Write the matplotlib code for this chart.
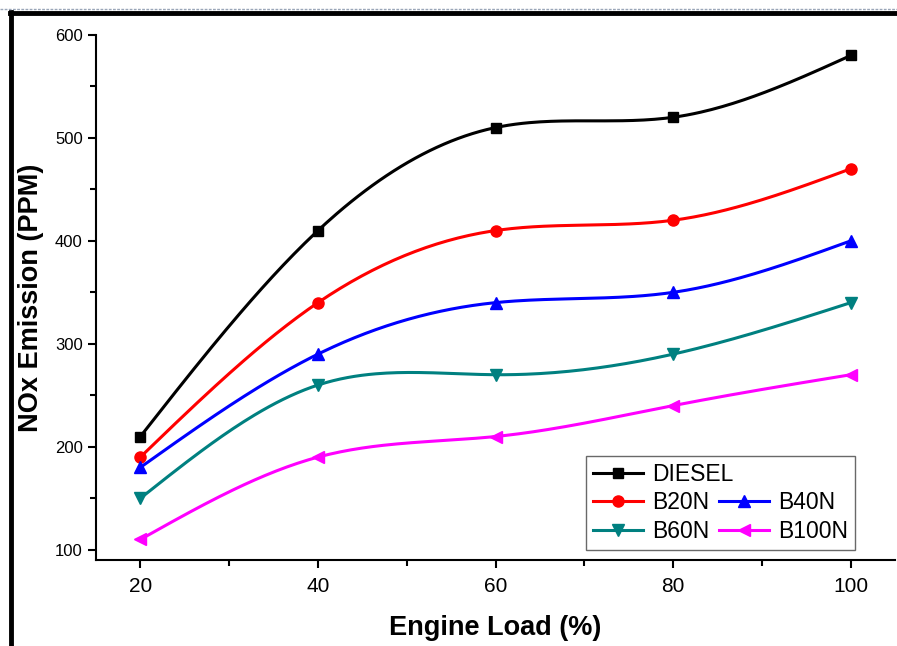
import numpy as np
import matplotlib
matplotlib.use("Agg")
import matplotlib.pyplot as plt
from matplotlib.lines import Line2D

plt.rcParams['font.family'] = ['Liberation Sans', 'DejaVu Sans']

loads = [20, 40, 60, 80, 100]
diesel = [210, 410, 510, 520, 580]
b20n = [190, 340, 410, 420, 470]
b40n = [180, 290, 340, 350, 400]
b60n = [150, 260, 270, 290, 340]
b100n = [110, 190, 210, 240, 270]
series_names = ["DIESEL", "B20N", "B40N", "B60N", "B100N"]
x_ticks = [20, 40, 60, 80, 100]
y_ticks = [100, 200, 300, 400, 500, 600]


def natural_spline(x, y, n=200):
    x = np.asarray(x, float)
    y = np.asarray(y, float)
    m = len(x)
    h = np.diff(x)
    A = np.zeros((m, m))
    b = np.zeros(m)
    A[0, 0] = 1
    A[-1, -1] = 1
    for i in range(1, m - 1):
        A[i, i - 1] = h[i - 1]
        A[i, i] = 2 * (h[i - 1] + h[i])
        A[i, i + 1] = h[i]
        b[i] = 3 * ((y[i + 1] - y[i]) / h[i] - (y[i] - y[i - 1]) / h[i - 1])
    c = np.linalg.solve(A, b)
    xs = np.linspace(x[0], x[-1], n)
    ys = np.empty_like(xs)
    for k, xv in enumerate(xs):
        i = min(np.searchsorted(x, xv, side='right') - 1, m - 2)
        dx = xv - x[i]
        bi = (y[i + 1] - y[i]) / h[i] - h[i] * (2 * c[i] + c[i + 1]) / 3
        di = (c[i + 1] - c[i]) / (3 * h[i])
        ys[k] = y[i] + bi * dx + c[i] * dx ** 2 + di * dx ** 3
    return xs, ys


fig = plt.figure(figsize=(8.97, 6.46), dpi=100)
ax = fig.add_axes([0.107, 0.133, 0.891, 0.813])

styles = [
    (diesel, 'black', 's', 7),
    (b20n, 'red', 'o', 8),
    (b40n, 'blue', '^', 8),
    (b60n, '#008080', 'v', 8),
    (b100n, 'magenta', '<', 8),
]
handles = []
for (vals, col, mk, ms), name in zip(styles, series_names):
    xs, ys = natural_spline(loads, vals)
    ax.plot(xs, ys, color=col, lw=2.2)
    ax.plot(loads, vals, linestyle='none', marker=mk, color=col, ms=ms)
    handles.append(Line2D([], [], color=col, lw=2.2, marker=mk, ms=ms, label=name))

ax.set_xlim(15, 105)
ax.set_ylim(90, 600)
ax.set_xticks(x_ticks)
ax.set_yticks(y_ticks)
ax.set_xticks([30, 50, 70, 90], minor=True)
ax.set_yticks([150, 250, 350, 450, 550], minor=True)
ax.tick_params(which='major', direction='out', length=6, width=1.5, labelsize=12)
ax.tick_params(which='minor', direction='out', length=4, width=1.5)
ax.tick_params(axis='x', labelsize=15, pad=6)
for s in ['top', 'right']:
    ax.spines[s].set_visible(False)
for s in ['left', 'bottom']:
    ax.spines[s].set_linewidth(1.5)

ax.set_xlabel('Engine Load (%)', fontsize=19.5, fontweight='bold', labelpad=14)
ax.set_ylabel('NOx Emission (PPM)', fontsize=19.5, fontweight='bold', labelpad=8)

leg_kw = dict(fontsize=16.5, handlelength=2.2, handletextpad=0.4,
              labelspacing=0.25, borderpad=0.3, borderaxespad=0)
blank = Line2D([], [], alpha=0)
leg_handles = [blank, handles[1], handles[3], blank, handles[2], handles[4]]
leg_labels = ['', series_names[1], series_names[3], '', series_names[2], series_names[4]]
leg = ax.legend(leg_handles, leg_labels, ncol=2, loc='lower right',
                bbox_to_anchor=(0.95, 0.019), frameon=True, fancybox=False,
                edgecolor='#444444', columnspacing=0.4, **leg_kw)
leg.get_frame().set_linewidth(1.0)
ax.add_artist(leg)

fig.canvas.draw()
bb = leg.get_window_extent().transformed(ax.transAxes.inverted())
leg2 = ax.legend([handles[0]], [series_names[0]], loc='upper left',
                 bbox_to_anchor=(bb.x0, bb.y1), frameon=False, **leg_kw)

# outer frame lines of the screenshot
fig.add_artist(Line2D([11 / 897, 11 / 897], [0, 1 - 12 / 646], color='black', lw=3.5,
                      transform=fig.transFigure))
fig.add_artist(Line2D([10 / 897, 1], [1 - 13 / 646, 1 - 13 / 646], color='black', lw=3.5,
                      transform=fig.transFigure))
fig.add_artist(Line2D([0, 1], [1 - 9 / 646, 1 - 9 / 646], color='#9aa6b8', lw=1,
                      ls='--', dashes=(2, 1), transform=fig.transFigure))

fig.savefig('out.png', dpi=100)
